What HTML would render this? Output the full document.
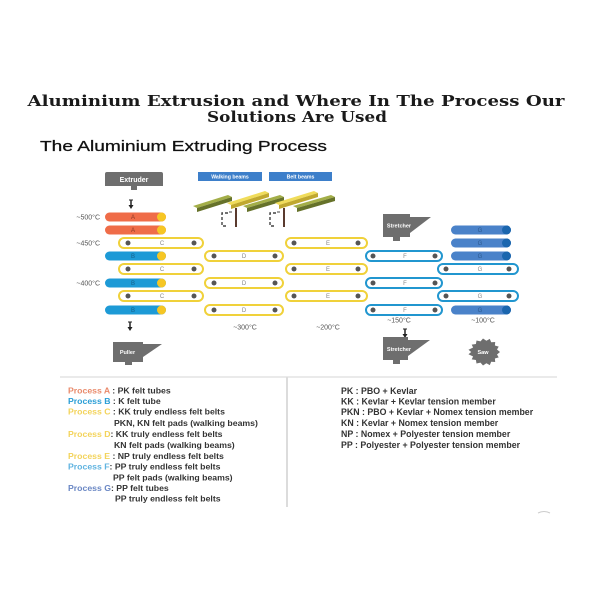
<!DOCTYPE html>
<html><head><meta charset="utf-8"><style>
html,body{margin:0;padding:0;background:#fff;}
svg{display:block;}
</style></head><body>
<svg width="600" height="600" viewBox="0 0 600 600" xmlns="http://www.w3.org/2000/svg">
<rect width="600" height="600" fill="#fff"/>
<!-- Titles -->
<text x="296" y="106" text-anchor="middle" font-family="DejaVu Serif, Liberation Serif, serif" font-weight="bold" font-size="15" fill="#1a1a1a" textLength="537" lengthAdjust="spacingAndGlyphs">Aluminium Extrusion and Where In The Process Our</text>
<text x="297" y="122" text-anchor="middle" font-family="DejaVu Serif, Liberation Serif, serif" font-weight="bold" font-size="15" fill="#1a1a1a" textLength="180" lengthAdjust="spacingAndGlyphs">Solutions Are Used</text>
<text x="40" y="151" font-family="Liberation Sans, sans-serif" font-size="14.5" fill="#111" stroke="#111" stroke-width="0.25" textLength="287" lengthAdjust="spacingAndGlyphs">The Aluminium Extruding Process</text>

<!-- Extruder -->
<path d="M105,174 Q105,172 107,172 L161,172 Q163,172 163,174 L163,186 L105,186 Z" fill="#6e6e6e"/>
<rect x="131" y="186" width="6" height="4" fill="#6e6e6e"/>
<text x="134" y="182" text-anchor="middle" font-family="Liberation Sans, sans-serif" font-weight="bold" font-size="7" fill="#fff">Extruder</text>
<line x1="131" y1="200" x2="131" y2="206" stroke="#222" stroke-width="1.5"/>
<line x1="129" y1="200" x2="133" y2="200" stroke="#222" stroke-width="1"/>
<polygon points="128.5,205 133.5,205 131,209" fill="#222"/>

<!-- Beam labels -->
<rect x="198" y="172" width="64" height="9" fill="#3d7fca"/>
<text x="230" y="178.6" text-anchor="middle" font-family="Liberation Sans, sans-serif" font-weight="bold" font-size="5.2" fill="#fff">Walking beams</text>
<rect x="269" y="172" width="63" height="9" fill="#3d7fca"/>
<text x="300.5" y="178.6" text-anchor="middle" font-family="Liberation Sans, sans-serif" font-weight="bold" font-size="5.2" fill="#fff">Belt beams</text>

<!-- Beams -->
<g>
<polygon points="193,206 228,195 232,197 197,208" fill="#a3ae48"/>
<polygon points="197,208 232,197 232,201 197,212" fill="#66722a"/>
<polygon points="227,203 265,191 269,193 231,205" fill="#f0dc5a"/>
<polygon points="231,205 269,193 269,197 231,209" fill="#c0a82f"/>
<polygon points="243,206 280,195 284,197 247,208" fill="#a3ae48"/>
<polygon points="247,208 284,197 284,201 247,212" fill="#66722a"/>
<polygon points="275,203 314,191 318,193 279,205" fill="#f0dc5a"/>
<polygon points="279,205 318,193 318,197 279,209" fill="#c0a82f"/>
<polygon points="293,206 331,195 335,197 297,208" fill="#a3ae48"/>
<polygon points="297,208 335,197 335,201 297,212" fill="#66722a"/>
</g>
<line x1="236" y1="208" x2="236" y2="227" stroke="#5a3a2e" stroke-width="2"/>
<line x1="284" y1="208" x2="284" y2="227" stroke="#5a3a2e" stroke-width="2"/>
<path d="M228,213 L222,213 L222,226 L228,226" fill="none" stroke="#444" stroke-width="1.4" stroke-dasharray="3,2"/>
<line x1="229" y1="212" x2="232" y2="212" stroke="#444" stroke-width="1"/>
<path d="M276,213 L270,213 L270,226 L276,226" fill="none" stroke="#444" stroke-width="1.4" stroke-dasharray="3,2"/>
<line x1="277" y1="212" x2="280" y2="212" stroke="#444" stroke-width="1"/>

<!-- Temperature labels -->
<g font-family="Liberation Sans, sans-serif" font-size="7" fill="#555">
<text x="100" y="219.5" text-anchor="end">~500°C</text>
<text x="100" y="245.5" text-anchor="end">~450°C</text>
<text x="100" y="285.5" text-anchor="end">~400°C</text>
<text x="245" y="329.5" text-anchor="middle">~300°C</text>
<text x="328" y="329.5" text-anchor="middle">~200°C</text>
<text x="399" y="322.5" text-anchor="middle">~150°C</text>
<text x="483" y="322.5" text-anchor="middle">~100°C</text>
</g>

<!-- Bars and rings -->
<g font-family="Liberation Sans, sans-serif" font-size="6" text-anchor="middle">
<rect x="105" y="212.5" width="61" height="9" rx="4.5" fill="#ef6c48"/><circle cx="161.5" cy="217" r="4.5" fill="#f6c624"/><text x="133" y="219" fill="#8a3a28">A</text>
<rect x="105" y="225.5" width="61" height="9" rx="4.5" fill="#ef6c48"/><circle cx="161.5" cy="230" r="4.5" fill="#f6c624"/><text x="133" y="232" fill="#8a3a28">A</text>
<rect x="105" y="251.5" width="61" height="9" rx="4.5" fill="#1d9ad6"/><circle cx="161.5" cy="256" r="4.5" fill="#f6c624"/><text x="133" y="258" fill="#155f8a">B</text>
<rect x="105" y="278.5" width="61" height="9" rx="4.5" fill="#1d9ad6"/><circle cx="161.5" cy="283" r="4.5" fill="#f6c624"/><text x="133" y="285" fill="#155f8a">B</text>
<rect x="105" y="305.5" width="61" height="9" rx="4.5" fill="#1d9ad6"/><circle cx="161.5" cy="310" r="4.5" fill="#f6c624"/><text x="133" y="312" fill="#155f8a">B</text>

<g>
<rect x="119" y="238" width="84" height="10" rx="5" fill="#fff" stroke="#f0d13a" stroke-width="2"/><circle cx="128" cy="243" r="2.5" fill="#555"/><circle cx="194" cy="243" r="2.5" fill="#555"/><text x="162" y="245" fill="#888">C</text>
<rect x="119" y="264" width="84" height="10" rx="5" fill="#fff" stroke="#f0d13a" stroke-width="2"/><circle cx="128" cy="269" r="2.5" fill="#555"/><circle cx="194" cy="269" r="2.5" fill="#555"/><text x="162" y="271" fill="#888">C</text>
<rect x="119" y="291" width="84" height="10" rx="5" fill="#fff" stroke="#f0d13a" stroke-width="2"/><circle cx="128" cy="296" r="2.5" fill="#555"/><circle cx="194" cy="296" r="2.5" fill="#555"/><text x="162" y="298" fill="#888">C</text>
</g>
<g>
<rect x="205" y="251" width="78" height="10" rx="5" fill="#fff" stroke="#f0d13a" stroke-width="2"/><circle cx="214" cy="256" r="2.5" fill="#555"/><circle cx="275" cy="256" r="2.5" fill="#555"/><text x="244" y="258" fill="#888">D</text>
<rect x="205" y="278" width="78" height="10" rx="5" fill="#fff" stroke="#f0d13a" stroke-width="2"/><circle cx="214" cy="283" r="2.5" fill="#555"/><circle cx="275" cy="283" r="2.5" fill="#555"/><text x="244" y="285" fill="#888">D</text>
<rect x="205" y="305" width="78" height="10" rx="5" fill="#fff" stroke="#f0d13a" stroke-width="2"/><circle cx="214" cy="310" r="2.5" fill="#555"/><circle cx="275" cy="310" r="2.5" fill="#555"/><text x="244" y="312" fill="#888">D</text>
</g>
<g>
<rect x="286" y="238" width="81" height="10" rx="5" fill="#fff" stroke="#f0d13a" stroke-width="2"/><circle cx="294" cy="243" r="2.5" fill="#555"/><circle cx="358" cy="243" r="2.5" fill="#555"/><text x="328" y="245" fill="#888">E</text>
<rect x="286" y="264" width="81" height="10" rx="5" fill="#fff" stroke="#f0d13a" stroke-width="2"/><circle cx="294" cy="269" r="2.5" fill="#555"/><circle cx="358" cy="269" r="2.5" fill="#555"/><text x="328" y="271" fill="#888">E</text>
<rect x="286" y="291" width="81" height="10" rx="5" fill="#fff" stroke="#f0d13a" stroke-width="2"/><circle cx="294" cy="296" r="2.5" fill="#555"/><circle cx="358" cy="296" r="2.5" fill="#555"/><text x="328" y="298" fill="#888">E</text>
</g>
<g>
<rect x="366" y="251" width="76" height="10" rx="5" fill="#fff" stroke="#2196cf" stroke-width="2"/><circle cx="373" cy="256" r="2.5" fill="#555"/><circle cx="435" cy="256" r="2.5" fill="#555"/><text x="405" y="258" fill="#888">F</text>
<rect x="366" y="278" width="76" height="10" rx="5" fill="#fff" stroke="#2196cf" stroke-width="2"/><circle cx="373" cy="283" r="2.5" fill="#555"/><circle cx="435" cy="283" r="2.5" fill="#555"/><text x="405" y="285" fill="#888">F</text>
<rect x="366" y="305" width="76" height="10" rx="5" fill="#fff" stroke="#2196cf" stroke-width="2"/><circle cx="373" cy="310" r="2.5" fill="#555"/><circle cx="435" cy="310" r="2.5" fill="#555"/><text x="405" y="312" fill="#888">F</text>
</g>
<g>
<rect x="451" y="225.5" width="60" height="9" rx="4.5" fill="#4a82c9"/><circle cx="506.5" cy="230" r="4.5" fill="#1b66ae"/><text x="480" y="232" fill="#2c5a90">G</text>
<rect x="451" y="238.5" width="60" height="9" rx="4.5" fill="#4a82c9"/><circle cx="506.5" cy="243" r="4.5" fill="#1b66ae"/><text x="480" y="245" fill="#2c5a90">G</text>
<rect x="451" y="251.5" width="60" height="9" rx="4.5" fill="#4a82c9"/><circle cx="506.5" cy="256" r="4.5" fill="#1b66ae"/><text x="480" y="258" fill="#2c5a90">G</text>
<rect x="451" y="305.5" width="60" height="9" rx="4.5" fill="#4a82c9"/><circle cx="506.5" cy="310" r="4.5" fill="#1b66ae"/><text x="480" y="312" fill="#2c5a90">G</text>
</g>
<g>
<rect x="438" y="264" width="80" height="10" rx="5" fill="#fff" stroke="#2196cf" stroke-width="2"/><circle cx="446" cy="269" r="2.5" fill="#555"/><circle cx="509" cy="269" r="2.5" fill="#555"/><text x="480" y="271" fill="#888">G</text>
<rect x="438" y="291" width="80" height="10" rx="5" fill="#fff" stroke="#2196cf" stroke-width="2"/><circle cx="446" cy="296" r="2.5" fill="#555"/><circle cx="509" cy="296" r="2.5" fill="#555"/><text x="480" y="298" fill="#888">G</text>
</g>
</g>

<!-- Stretcher top -->
<polygon points="383,214 410,214 410,217 431,217 410,233 410,237 383,237" fill="#6e6e6e"/>
<rect x="393" y="237" width="7" height="4" fill="#6e6e6e"/>
<text x="399" y="227.5" text-anchor="middle" font-family="Liberation Sans, sans-serif" font-weight="bold" font-size="5.5" fill="#fff">Stretcher</text>

<!-- Arrows bottom -->
<line x1="130" y1="322" x2="130" y2="328" stroke="#222" stroke-width="1.5"/>
<line x1="128" y1="322" x2="132" y2="322" stroke="#222" stroke-width="1"/>
<polygon points="127.5,327 132.5,327 130,331" fill="#222"/>
<line x1="405" y1="329" x2="405" y2="335" stroke="#222" stroke-width="1.5"/>
<line x1="403" y1="329" x2="407" y2="329" stroke="#222" stroke-width="1"/>
<polygon points="402.5,334 407.5,334 405,338" fill="#222"/>

<!-- Puller -->
<polygon points="113,342 143,342 143,344 162,344 143,357 143,362 113,362" fill="#6e6e6e"/>
<rect x="125" y="362" width="7" height="3" fill="#6e6e6e"/>
<text x="127.5" y="354" text-anchor="middle" font-family="Liberation Sans, sans-serif" font-weight="bold" font-size="5.5" fill="#fff">Puller</text>

<!-- Stretcher bottom -->
<polygon points="383,337 408,337 408,340 430,340 408,356 408,360 383,360" fill="#6e6e6e"/>
<rect x="393" y="360" width="7" height="4" fill="#6e6e6e"/>
<text x="399" y="351" text-anchor="middle" font-family="Liberation Sans, sans-serif" font-weight="bold" font-size="5.5" fill="#fff">Stretcher</text>

<!-- Saw -->
<polygon fill="#6e6e6e" points="500.0,352.0 497.0,354.5 498.7,357.4 494.9,358.5 495.2,362.0 491.2,361.8 489.8,365.1 486.4,363.3 483.0,365.5 480.5,362.6 476.5,363.5 475.9,360.0 471.7,359.4 473.1,356.5 468.5,354.3 471.2,352.0 468.5,349.7 473.1,347.5 471.7,344.6 475.9,344.0 476.5,340.5 480.5,341.4 483.0,338.5 486.4,340.7 489.8,338.9 491.2,342.2 495.2,342.0 494.9,345.5 498.7,346.6 497.0,349.5"/>
<text x="483" y="354" text-anchor="middle" font-family="Liberation Sans, sans-serif" font-weight="bold" font-size="5.5" fill="#fff">Saw</text>

<!-- Legend separators -->
<line x1="60" y1="377" x2="557" y2="377" stroke="#e3e3e3" stroke-width="1.5"/>
<line x1="287" y1="377" x2="287" y2="507" stroke="#dcdcdc" stroke-width="2"/>
<path d="M538,513 Q544,510 550,513" fill="none" stroke="#ccc" stroke-width="1"/>

<!-- Legend left -->
<g font-family="Liberation Sans, sans-serif" font-weight="bold" font-size="8.7" fill="#333">
<text x="68" y="393.5"><tspan fill="#e98a6b">Process A</tspan> : PK felt tubes</text>
<text x="68" y="404"><tspan fill="#2a9ed6">Process B</tspan> : K felt tube</text>
<text x="68" y="414.5"><tspan fill="#f3d35a">Process C</tspan> : KK truly endless felt belts</text>
<text x="114" y="426">PKN, KN felt pads (walking beams)</text>
<text x="68" y="437"><tspan fill="#f3d35a">Process D</tspan>: KK truly endless felt belts</text>
<text x="114" y="448">KN felt pads (walking beams)</text>
<text x="68" y="459"><tspan fill="#f3d35a">Process E</tspan> : NP truly endless felt belts</text>
<text x="68" y="469.5"><tspan fill="#5fb3e0">Process F</tspan>: PP truly endless felt belts</text>
<text x="113" y="480.5">PP felt pads (walking beams)</text>
<text x="68" y="491"><tspan fill="#6a87c4">Process G</tspan>:  PP felt tubes</text>
<text x="115" y="501.5">PP truly endless felt belts</text>
</g>
<!-- Legend right -->
<g font-family="Liberation Sans, sans-serif" font-weight="bold" font-size="8.8" fill="#333">
<text x="341" y="394">PK : PBO + Kevlar</text>
<text x="341" y="404.5">KK : Kevlar + Kevlar tension member</text>
<text x="341" y="415">PKN : PBO + Kevlar + Nomex tension member</text>
<text x="341" y="426">KN : Kevlar + Nomex tension member</text>
<text x="341" y="437">NP : Nomex + Polyester tension member</text>
<text x="341" y="448">PP : Polyester + Polyester tension member</text>
</g>
</svg>
</body></html>
